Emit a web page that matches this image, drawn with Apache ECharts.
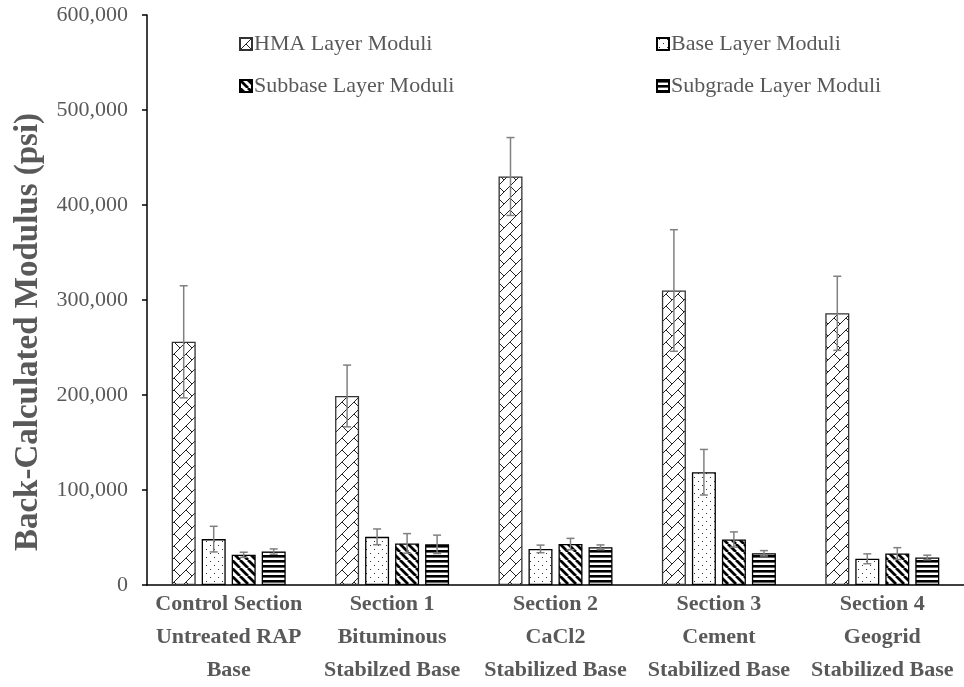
<!DOCTYPE html>
<html>
<head>
<meta charset="utf-8">
<script src="https://cdn.jsdelivr.net/npm/echarts@6/dist/echarts.min.js"></script>
<style>
html,body{margin:0;padding:0;background:#fff;}
#chart{width:964px;height:687px;}
</style>
</head>
<body>
<div id="chart"></div>
<script>
// ---- data ----
const categories = [
  'Control Section\nUntreated RAP\nBase',
  'Section 1\nBituminous\nStabilzed Base',
  'Section 2\nCaCl2\nStabilized Base',
  'Section 3\nCement\nStabilized Base',
  'Section 4\nGeogrid\nStabilized Base'
];
const seriesNames = ['HMA Layer Moduli', 'Base Layer Moduli', 'Subbase Layer Moduli', 'Subgrade Layer Moduli'];
const hmaValues      = [256000, 199000, 430000, 310000, 286000];
const hmaErrors      = [59000, 32500, 41000, 64000, 39000];
const baseValues     = [48300, 50700, 38000, 118700, 27600];
const baseErrors     = [13500, 8300, 4000, 24000, 5200];
const subbaseValues  = [31800, 43800, 43100, 47900, 33100];
const subbaseErrors  = [2700, 10300, 6000, 8000, 6200];
const subgradeValues = [35200, 42800, 39700, 33400, 29000];
const subgradeErrors = [2800, 9700, 2500, 2800, 2400];
const yTicks = [0, 100000, 200000, 300000, 400000, 500000, 600000];

// ---- patterns ----
function tile(w, h, draw) {
  const c = document.createElement('canvas');
  c.width = w; c.height = h;
  const ctx = c.getContext('2d');
  ctx.fillStyle = '#fff';
  ctx.fillRect(0, 0, w, h);
  draw(ctx);
  return c;
}
const brick = tile(12, 12, ctx => {
  ctx.strokeStyle = '#222'; ctx.lineWidth = 1;
  ctx.beginPath();
  ctx.moveTo(0, 12); ctx.lineTo(12, 0);
  ctx.moveTo(6, 6); ctx.lineTo(12, 12);
  ctx.stroke();
});
const dots = tile(8, 8, ctx => {
  ctx.fillStyle = '#333';
  ctx.fillRect(2, 1, 1, 1);
  ctx.fillRect(6, 5, 1, 1);
});
const diag = tile(8, 8, ctx => {
  ctx.strokeStyle = '#000'; ctx.lineWidth = 2.8;
  ctx.beginPath();
  for (const k of [-8, 0, 8]) { ctx.moveTo(k, 0); ctx.lineTo(k + 8, 8); }
  ctx.moveTo(-1, -1); ctx.lineTo(9, 9);
  ctx.stroke();
});
const horiz = tile(4, 5, ctx => {
  ctx.fillStyle = '#000';
  ctx.fillRect(0, 0, 4, 2.6);
});
const patterns = [brick, dots, diag, horiz].map(c => ({ image: c, repeat: 'repeat' }));

const valueSets = [hmaValues, baseValues, subbaseValues, subgradeValues];
const errorSets = [hmaErrors, baseErrors, subbaseErrors, subgradeErrors];

const BAR_W = 24, BAR_GAP = 6;
const offsets = [-1.5, -0.5, 0.5, 1.5].map(k => k * (BAR_W + BAR_GAP));

const serif = "'Liberation Serif', 'Times New Roman', serif";
const grey = '#595959';

const series = [];
seriesNames.forEach((name, i) => {
  series.push({
    name: name,
    type: 'bar',
    barWidth: BAR_W,
    barGap: (BAR_GAP / BAR_W * 100) + '%',
    data: valueSets[i],
    itemStyle: { color: patterns[i], borderColor: i === 0 ? '#333' : '#000', borderWidth: 1.3 },
    emphasis: { disabled: true },
    z: 2
  });
});
seriesNames.forEach((name, i) => {
  series.push({
    name: name + ' error',
    type: 'custom',
    z: 5,
    silent: true,
    data: valueSets[i].map((v, j) => [j, v, errorSets[i][j]]),
    encode: { x: 0, y: 1 },
    renderItem: function (params, api) {
      const x = api.value(0), v = api.value(1), e = api.value(2);
      const hi = api.coord([x, v + e]);
      const lo = api.coord([x, Math.max(0, v - e)]);
      const cx = hi[0] + offsets[i];
      const st = { stroke: '#808080', lineWidth: 1.5 };
      return {
        type: 'group',
        children: [
          { type: 'line', shape: { x1: cx, y1: hi[1], x2: cx, y2: lo[1] }, style: st },
          { type: 'line', shape: { x1: cx - 4, y1: hi[1], x2: cx + 4, y2: hi[1] }, style: st },
          { type: 'line', shape: { x1: cx - 4, y1: lo[1], x2: cx + 4, y2: lo[1] }, style: st }
        ]
      };
    }
  });
});

function legendAt(name, left, top) {
  return {
    data: [name],
    left: left, top: top,
    itemWidth: 12, itemHeight: 12,
    itemGap: 0,
    selectedMode: false,
    icon: 'rect',
    textStyle: { fontFamily: serif, fontSize: 22, lineHeight: 26, color: grey, padding: [0, 0, 0, -3] }
  };
}

const chart = echarts.init(document.getElementById('chart'), null, { renderer: 'canvas' });
chart.setOption({
  animation: false,
  backgroundColor: '#fff',
  grid: { left: 147, top: 15, width: 830, height: 579, containLabel: false },
  legend: [
    legendAt(seriesNames[0], 234, 26),
    legendAt(seriesNames[1], 651, 26),
    legendAt(seriesNames[2], 234, 68),
    legendAt(seriesNames[3], 651, 68)
  ],
  xAxis: {
    type: 'category',
    data: categories,
    axisLine: { lineStyle: { color: '#000', width: 1.5 } },
    axisTick: { show: false },
    axisLabel: {
      interval: 0, fontFamily: serif, fontWeight: 'bold', fontSize: 22,
      color: grey, lineHeight: 33, margin: 3
    }
  },
  yAxis: {
    type: 'value',
    min: yTicks[0], max: yTicks[yTicks.length - 1], interval: yTicks[1] - yTicks[0],
    axisLine: { show: true, lineStyle: { color: '#000', width: 1.5 } },
    axisTick: { show: true, length: 5, lineStyle: { color: '#000', width: 1.5 } },
    splitLine: { show: false },
    axisLabel: {
      fontFamily: serif, fontSize: 22, color: grey, margin: 19,
      formatter: v => v.toLocaleString('en-US')
    }
  },
  graphic: [{
    type: 'text',
    x: 28, y: 332,
    rotation: Math.PI / 2,
    style: {
      text: 'Back-Calculated Modulus (psi)',
      fontFamily: serif, fontWeight: 'bold', fontSize: 33, fill: grey,
      align: 'center', verticalAlign: 'middle'
    }
  }],
  series: series
});
</script>
</body>
</html>
